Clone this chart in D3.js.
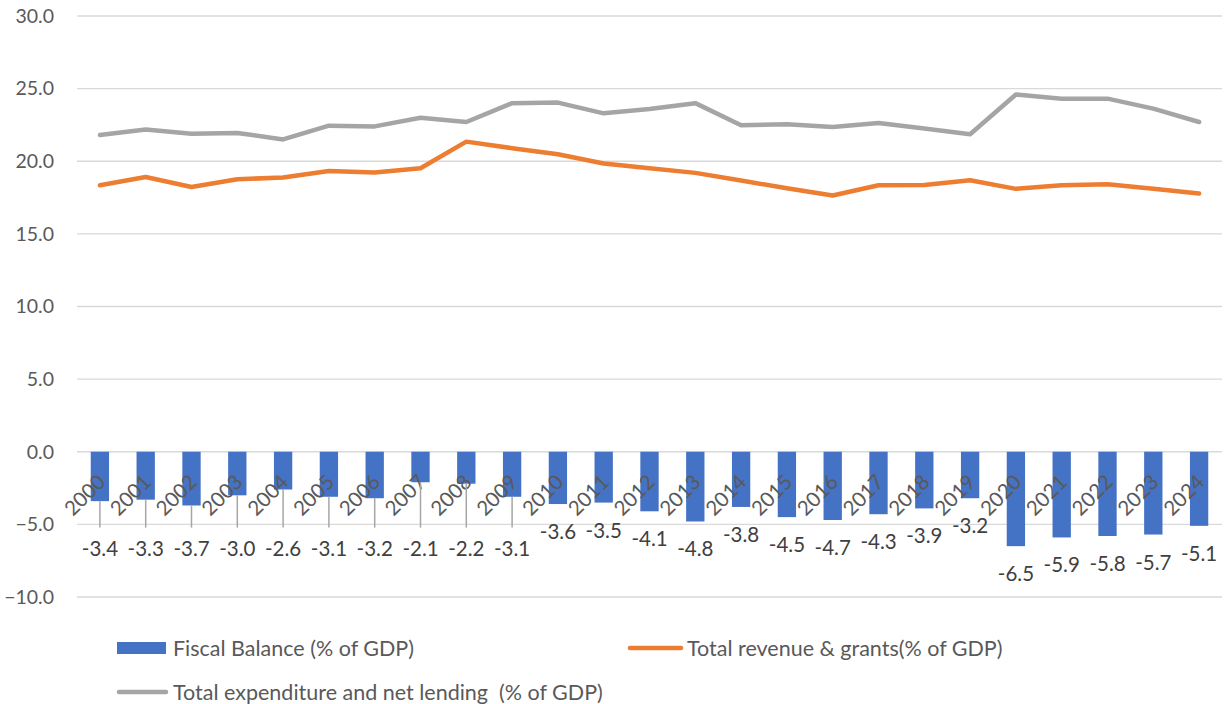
<!DOCTYPE html>
<html><head><meta charset="utf-8">
<script src="https://cdn.jsdelivr.net/npm/d3@7"></script>
<style>
body{margin:0;background:#fff;}
text{font-family:Lato,"Open Sans",sans-serif;white-space:pre;}
</style></head>
<body><svg id="chart" width="1225" height="704"></svg>
<script>
const years = ["2000","2001","2002","2003","2004","2005","2006","2007","2008","2009","2010","2011","2012","2013","2014","2015","2016","2017","2018","2019","2020","2021","2022","2023","2024"];
const fiscalBalance = [-3.4,-3.3,-3.7,-3.0,-2.6,-3.1,-3.2,-2.1,-2.2,-3.1,-3.6,-3.5,-4.1,-4.8,-3.8,-4.5,-4.7,-4.3,-3.9,-3.2,-6.5,-5.9,-5.8,-5.7,-5.1];
const revenue = [18.35,18.92,18.23,18.76,18.88,19.33,19.22,19.52,21.35,20.9,20.48,19.84,19.52,19.2,18.67,18.14,17.64,18.35,18.37,18.69,18.1,18.35,18.42,18.1,17.78];
const expenditure = [21.8,22.18,21.9,21.95,21.5,22.45,22.4,23.0,22.7,24.0,24.04,23.3,23.6,24.0,22.48,22.55,22.36,22.64,22.25,21.86,24.6,24.31,24.31,23.62,22.7];
const yTicks = [30,25,20,15,10,5,0,-5,-10];
const leaderYears = ["2000","2001","2002","2003","2004","2005","2006","2007","2008","2009"];
const seriesNames = ["Fiscal Balance (% of GDP)","Total revenue & grants(% of GDP)","Total expenditure and net lending  (% of GDP)"];

(function(){
const colors = {bar:"#4472C4", rev:"#ED7D31", exp:"#A5A5A5", grid:"#D9D9D9", text:"#595959", label:"#404040"};
const svg = d3.select("#chart");
const mLeft = 77, mRight = 1222, mTop = 16, mBottom = 597;
const x = d3.scaleBand().domain(years).range([mLeft, mRight]).paddingInner(0.6).paddingOuter(0.3);
const y = d3.scaleLinear().domain([-10, 30]).range([mBottom, mTop]);
const fsTick = "19.5px", fsYear = "20.5px", fsLabel = "20.5px", fsLegend = "21.5px";

svg.append("g").selectAll("line").data(yTicks).join("line")
  .attr("x1", mLeft).attr("x2", mRight)
  .attr("y1", d => y(d)).attr("y2", d => y(d))
  .attr("stroke", colors.grid).attr("stroke-width", 1.3);

const yAxis = d3.axisLeft(y).tickValues(yTicks).tickFormat(d3.format(".1f")).tickSize(0).tickPadding(0);
const yg = svg.append("g").attr("transform", `translate(${54},0)`).call(yAxis);
yg.select(".domain").remove();
yg.selectAll("text").attr("font-size", fsTick).attr("fill", colors.text).attr("font-family","Lato");

svg.append("g").selectAll("rect").data(years).join("rect")
  .attr("x", d => x(d))
  .attr("width", x.bandwidth())
  .attr("y", (d,i) => y(Math.max(0, fiscalBalance[i])))
  .attr("height", (d,i) => Math.abs(y(fiscalBalance[i]) - y(0)))
  .attr("fill", colors.bar);

svg.append("g").selectAll("text").data(years).join("text")
  .attr("transform", d => `translate(${x(d) + x.bandwidth()/2 + 1},${y(0) + 26}) rotate(-45)`)
  .attr("text-anchor", "end")
  .attr("dominant-baseline", "central")
  .attr("font-size", fsYear).attr("fill", colors.text)
  .text(d => d);

const line = d3.line().x((d,i) => x(years[i]) + x.bandwidth()/2).y(d => y(d));
svg.append("path").datum(expenditure).attr("d", line).attr("fill","none")
  .attr("stroke", colors.exp).attr("stroke-width", 4.5).attr("stroke-linecap","round").attr("stroke-linejoin","round");
svg.append("path").datum(revenue).attr("d", line).attr("fill","none")
  .attr("stroke", colors.rev).attr("stroke-width", 4.5).attr("stroke-linecap","round").attr("stroke-linejoin","round");

const leaderLevel = -6.6;
function labelY(i){
  return leaderYears.includes(years[i]) ? y(leaderLevel) : y(fiscalBalance[i]) + 27;
}
svg.append("g").selectAll("line").data(years.filter(d => leaderYears.includes(d))).join("line")
  .attr("x1", d => x(d) + x.bandwidth()/2).attr("x2", d => x(d) + x.bandwidth()/2)
  .attr("y1", d => y(fiscalBalance[years.indexOf(d)]))
  .attr("y2", d => labelY(years.indexOf(d)) - 20)
  .attr("stroke", "#A6A6A6").attr("stroke-width", 1.5);
svg.append("g").selectAll("text").data(years).join("text")
  .attr("x", d => x(d) + x.bandwidth()/2)
  .attr("y", (d,i) => labelY(i))
  .attr("text-anchor","middle").attr("dominant-baseline","central")
  .attr("font-size", fsLabel).attr("fill", colors.label)
  .text((d,i) => d3.format(".1f")(fiscalBalance[i]).replace("−","-"));

const lg = svg.append("g");
lg.append("rect").attr("x",117).attr("y",642).attr("width",49).attr("height",12).attr("fill",colors.bar);
lg.append("text").attr("x",173).attr("y",648).attr("dominant-baseline","central").attr("font-size",fsLegend).attr("fill",colors.text).text(seriesNames[0]);
lg.append("line").attr("x1",630).attr("x2",681).attr("y1",648).attr("y2",648).attr("stroke",colors.rev).attr("stroke-width",4.5).attr("stroke-linecap","round");
lg.append("text").attr("x",687).attr("y",648).attr("dominant-baseline","central").attr("font-size",fsLegend).attr("fill",colors.text).text(seriesNames[1]);
lg.append("line").attr("x1",119).attr("x2",166).attr("y1",692).attr("y2",692).attr("stroke",colors.exp).attr("stroke-width",4.5).attr("stroke-linecap","round");
lg.append("text").attr("x",173).attr("y",692).attr("dominant-baseline","central").attr("font-size",fsLegend).attr("fill",colors.text).text(seriesNames[2]);
})();
</script></body></html>
